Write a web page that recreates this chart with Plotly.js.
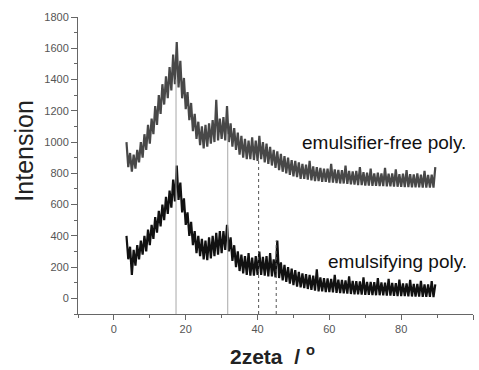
<!DOCTYPE html>
<html>
<head>
<meta charset="utf-8">
<script src="https://cdn.plot.ly/plotly-3.0.1.min.js"></script>
<style>html,body{margin:0;padding:0;background:#fff;}#chart{width:479px;height:370px;}</style>
</head>
<body>
<div id="chart"></div>
<script>
// 2theta grid: first angle and step (degrees)
const startAngle = 3.5;
const stepAngle = 0.5;

// emulsifier-free poly. (3.5 .. 89.5 deg, every 0.5 deg)
const freeIntensity = [
  1000, 840, 930, 810, 920, 830, 950, 870, 1000, 900,
  1050, 950, 1110, 990, 1150, 1050, 1230, 1110, 1300, 1180,
  1370, 1240, 1420, 1280, 1480, 1330, 1560, 1370, 1640, 1350,
  1520, 1280, 1410, 1210, 1320, 1140, 1250, 1070, 1180, 1020,
  1130, 980, 1100, 960, 1110, 970, 1120, 990, 1140, 1000,
  1270, 1010, 1150, 1020, 1160, 1010, 1230, 1000, 1120, 970,
  1090, 950, 1060, 920, 1040, 900, 1020, 890, 1010, 890,
  1030, 885, 1010, 880, 1040, 890, 1000, 870, 990, 860,
  970, 850, 950, 835, 940, 820, 925, 810, 910, 800,
  900, 790, 885, 780, 880, 775, 870, 765, 860, 765,
  855, 760, 880, 755, 845, 750, 840, 750, 835, 745,
  830, 745, 830, 740, 860, 740, 825, 738, 822, 735,
  820, 735, 850, 732, 815, 730, 812, 728, 815, 725,
  840, 725, 808, 722, 805, 722, 830, 720, 800, 720,
  805, 718, 800, 718, 835, 716, 798, 716, 800, 715,
  825, 714, 795, 713, 798, 712, 820, 712, 795, 711,
  793, 710, 800, 710, 792, 709, 815, 709, 790, 708,
  792, 708, 840
];

// emulsifying poly.
const emulsIntensity = [
  400, 250, 330, 150, 310, 210, 340, 250, 370, 280,
  400, 300, 440, 340, 470, 380, 520, 420, 560, 460,
  600, 500, 650, 540, 690, 580, 760, 620, 850, 630,
  740, 550, 640, 470, 550, 400, 490, 340, 430, 290,
  400, 270, 380, 250, 370, 245, 390, 255, 400, 270,
  420, 280, 430, 290, 430, 310, 470, 300, 390, 240,
  340, 200, 300, 175, 280, 160, 270, 150, 290, 145,
  260, 145, 270, 150, 300, 150, 265, 145, 270, 140,
  290, 140, 250, 135, 370, 130, 230, 115, 215, 105,
  200, 95, 190, 85, 180, 75, 170, 70, 160, 65,
  155, 60, 150, 55, 145, 50, 185, 45, 135, 45,
  130, 40, 128, 40, 125, 38, 150, 35, 120, 33,
  118, 32, 115, 30, 140, 28, 112, 26, 110, 25,
  108, 24, 135, 23, 106, 22, 105, 21, 104, 20,
  130, 20, 102, 19, 101, 18, 125, 17, 99, 16,
  98, 15, 120, 15, 96, 14, 95, 13, 118, 12,
  93, 12, 92, 11, 112, 10, 90, 10, 89, 9,
  110, 8, 90
];

// marker lines: angle, top intensity, dashed?
const markAngles = [17.3, 31.7, 40.3, 45.2];
const markTops = [1400, 1050, 900, 370];
const markDashed = [false, false, true, true];

const seriesNames = ['emulsifier-free poly.', 'emulsifying poly.'];
const yMin = -100, yMax = 1800, xMin = -10, xMax = 100;

const traces = [
  {x0: startAngle, dx: stepAngle, y: freeIntensity, type: 'scatter', mode: 'lines',
   line: {color: '#484848', width: 2.2}, name: seriesNames[0], hoverinfo: 'skip'},
  {x0: startAngle, dx: stepAngle, y: emulsIntensity, type: 'scatter', mode: 'lines',
   line: {color: '#111111', width: 2.2}, name: seriesNames[1], hoverinfo: 'skip'}
];

const shapes = markAngles.map((a, i) => ({
  type: 'line', xref: 'x', yref: 'y', x0: a, x1: a, y0: yMin, y1: markTops[i],
  layer: 'above',
  line: {color: markDashed[i] ? '#555555' : '#a8a8a8', width: 1, dash: markDashed[i] ? '3px,3px' : 'solid'}
}));

const tickFont = {family: 'Liberation Sans, Arial, sans-serif', size: 11, color: '#555555'};

const layout = {
  width: 479, height: 370,
  margin: {l: 78, r: 6, t: 17, b: 56},
  paper_bgcolor: '#ffffff', plot_bgcolor: '#ffffff',
  showlegend: false,
  xaxis: {
    range: [xMin, xMax], tick0: 0, dtick: 20, ticks: 'outside', ticklen: 5, tickwidth: 1,
    tickcolor: '#666666', showline: true, linecolor: '#666666', linewidth: 1,
    showgrid: false, zeroline: false, tickfont: tickFont,
    minor: {dtick: 10, ticks: 'outside', ticklen: 3, tickcolor: '#666666', showgrid: false}
  },
  yaxis: {
    range: [yMin, yMax], tick0: 0, dtick: 200, ticks: 'outside', ticklen: 6, tickwidth: 1,
    tickcolor: '#666666', showline: true, linecolor: '#666666', linewidth: 1,
    showgrid: false, zeroline: false, tickfont: tickFont,
    minor: {dtick: 100, ticks: 'outside', ticklen: 3, tickcolor: '#666666', showgrid: false}
  },
  shapes: shapes,
  annotations: [
    {text: seriesNames[0], xref: 'x', yref: 'y', x: 98.6, y: 1000, xanchor: 'right', yanchor: 'middle',
     showarrow: false, font: {family: 'Liberation Sans, Arial, sans-serif', size: 19, color: '#111111'}},
    {text: seriesNames[1], xref: 'x', yref: 'y', x: 98.8, y: 237, xanchor: 'right', yanchor: 'middle',
     showarrow: false, font: {family: 'Liberation Sans, Arial, sans-serif', size: 19, color: '#111111'}},
    {text: 'Intension', xref: 'paper', yref: 'paper', x: -0.139, y: 0.547, xanchor: 'center', yanchor: 'middle',
     textangle: -90, showarrow: false, font: {family: 'Liberation Sans, Arial, sans-serif', size: 25, color: '#222222'}},
    {text: '<b>2zeta&nbsp;&nbsp;/ <sup>o</sup></b>', xref: 'paper', yref: 'paper', x: 0.492, y: -0.138,
     xanchor: 'center', yanchor: 'middle', showarrow: false,
     font: {family: 'Liberation Sans, Arial, sans-serif', size: 21, color: '#222222'}}
  ]
};

Plotly.newPlot('chart', traces, layout, {staticPlot: true, displayModeBar: false});
</script>
</body>
</html>
